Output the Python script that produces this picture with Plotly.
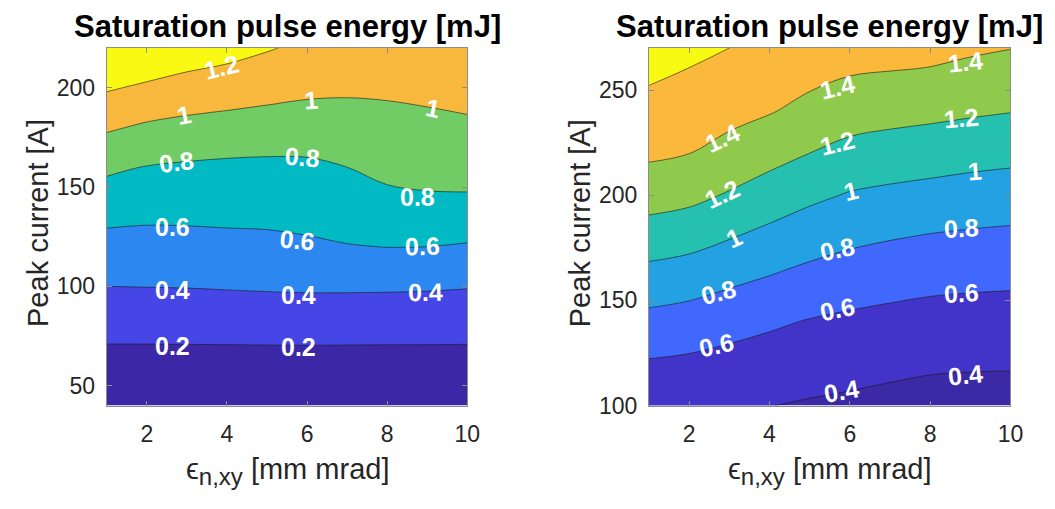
import plotly.graph_objects as go

# ---------------- data ----------------
emit_x = [1, 2, 3, 4, 5, 6, 7, 8, 9, 10]

# left panel
current_left = [40, 60, 80, 100, 120, 140, 160, 180, 200, 220]
energy_left = [
    [0.020, 0.020, 0.020, 0.020, 0.020, 0.020, 0.020, 0.020, 0.020, 0.020],
    [0.124, 0.124, 0.124, 0.124, 0.124, 0.124, 0.124, 0.124, 0.124, 0.124],
    [0.262, 0.263, 0.264, 0.267, 0.269, 0.271, 0.269, 0.268, 0.267, 0.264],
    [0.400, 0.403, 0.406, 0.413, 0.420, 0.425, 0.425, 0.423, 0.418, 0.409],
    [0.533, 0.530, 0.535, 0.547, 0.553, 0.571, 0.592, 0.603, 0.600, 0.583],
    [0.677, 0.660, 0.659, 0.660, 0.663, 0.674, 0.697, 0.739, 0.757, 0.757],
    [0.837, 0.793, 0.776, 0.764, 0.761, 0.767, 0.800, 0.848, 0.863, 0.871],
    [1.024, 0.973, 0.945, 0.926, 0.909, 0.900, 0.914, 0.936, 0.950, 0.967],
    [1.220, 1.170, 1.127, 1.100, 1.071, 1.042, 1.029, 1.031, 1.047, 1.068],
    [1.380, 1.370, 1.310, 1.267, 1.214, 1.164, 1.143, 1.144, 1.156, 1.174],
]
levels_left = (0.2, 1.2, 0.2)
colors_left = ["#3c28a6", "#4646e6", "#2d87f0", "#02bac4",
               "#72cc66", "#f7b83d", "#f9f914"]
yticks_left = [50, 100, 150, 200]

# right panel
current_right = [100, 120, 140, 160, 180, 200, 220, 240, 260, 280]
energy_right = [
    [0.447, 0.433, 0.418, 0.403, 0.382, 0.365, 0.344, 0.325, 0.317, 0.316],
    [0.582, 0.564, 0.535, 0.511, 0.486, 0.465, 0.446, 0.428, 0.421, 0.418],
    [0.742, 0.716, 0.672, 0.629, 0.590, 0.565, 0.547, 0.531, 0.524, 0.520],
    [0.921, 0.888, 0.835, 0.786, 0.736, 0.696, 0.668, 0.647, 0.636, 0.629],
    [1.106, 1.074, 1.009, 0.946, 0.887, 0.842, 0.811, 0.787, 0.771, 0.760],
    [1.283, 1.250, 1.183, 1.109, 1.040, 0.986, 0.959, 0.938, 0.918, 0.903],
    [1.432, 1.402, 1.338, 1.268, 1.200, 1.141, 1.114, 1.093, 1.070, 1.053],
    [1.536, 1.500, 1.457, 1.412, 1.348, 1.290, 1.265, 1.247, 1.225, 1.206],
    [1.641, 1.597, 1.552, 1.506, 1.460, 1.422, 1.407, 1.395, 1.371, 1.348],
    [1.745, 1.694, 1.648, 1.600, 1.553, 1.516, 1.499, 1.487, 1.473, 1.459],
]
levels_right = (0.4, 1.6, 0.2)
colors_right = ["#3c29a6", "#4234c9", "#4168fc", "#24a1e3",
                "#25c0af", "#8fca4c", "#fbb93c", "#f8fa14"]
yticks_right = [100, 150, 200, 250]

xticks = [2, 4, 6, 8, 10]
title_text = "Saturation pulse energy [mJ]"
xlabel_main = "\u03f5"
xlabel_sub = "n,xy"
xlabel_unit = " [mm mrad]"
ylabel_text = "Peak current [A]"

# contour-label placement (label text, x, y, rotation in degrees)
label_place_left = [
    ("1.2", 3.87, 210.5, -14),
    ("1", 2.92, 186.5, -10),
    ("1", 6.09, 193.8, -4),
    ("1", 9.14, 189.8, 12),
    ("0.8", 2.75, 162.7, -7),
    ("0.8", 5.88, 165.2, 5),
    ("0.8", 8.77, 144.9, 0),
    ("0.6", 2.65, 130.0, 0),
    ("0.6", 5.76, 123.5, 6),
    ("0.6", 8.89, 120.2, -2),
    ("0.4", 2.65, 98.1, 0),
    ("0.4", 5.78, 95.8, 0),
    ("0.4", 8.95, 97.3, -1),
    ("0.2", 2.65, 70.0, 0),
    ("0.2", 5.78, 69.6, 0),
]
label_place_right = [
    ("1.4", 8.87, 263.4, -6),
    ("1.4", 5.70, 251.5, -13),
    ("1.4", 2.83, 227.2, -25),
    ("1.2", 8.79, 236.5, -5),
    ("1.2", 5.70, 224.7, -13),
    ("1.2", 2.83, 200.5, -25),
    ("1", 9.12, 211.3, -4),
    ("1", 6.03, 202.0, -13),
    ("1", 3.11, 179.6, -25),
    ("0.8", 8.79, 184.2, -3),
    ("0.8", 5.70, 174.2, -12),
    ("0.8", 2.74, 154.1, -15),
    ("0.6", 8.79, 153.3, -3),
    ("0.6", 5.70, 145.9, -12),
    ("0.6", 2.68, 128.9, -12),
    ("0.4", 8.87, 114.7, -6),
    ("0.4", 5.79, 107.0, -10),
]

FONT = "Liberation Sans, Arial, Helvetica, sans-serif"
AXCOL = "#8c8c8c"
TXTCOL = "#262626"


def discrete_scale(colors):
    n = len(colors) - 1
    return [[i / n, c] for i, c in enumerate(colors)]


def contour_trace(z, y, levels, colors, xa, ya):
    start, end, size = levels
    return go.Contour(
        x=emit_x, y=y, z=z,
        autocontour=False,
        contours=dict(start=start, end=end, size=size, coloring="fill",
                      showlabels=False),
        colorscale=discrete_scale(colors),
        line=dict(color="#1a1a1a", width=0.6),
        showscale=False,
        xaxis=xa, yaxis=ya,
        hoverinfo="skip",
    )


fig = go.Figure()
fig.add_trace(contour_trace(energy_left, current_left, levels_left, colors_left, "x", "y"))
fig.add_trace(contour_trace(energy_right, current_right, levels_right, colors_right, "x2", "y2"))

W, H = 1055, 509
left_px = (100, 465)
right_px = (649, 1015)
top_px, bot_px = 41, 408
ydom = [1 - bot_px / H, 1 - top_px / H]

axis_common = dict(
    showline=True, linecolor=AXCOL, linewidth=1, mirror="ticks",
    ticks="inside", ticklen=5, tickcolor=AXCOL, tickwidth=1,
    showgrid=False, zeroline=False,
    tickfont=dict(family=FONT, size=23, color=TXTCOL),
)

fig.update_layout(
    width=W, height=H,
    margin=dict(l=0, r=0, t=0, b=0),
    paper_bgcolor="white", plot_bgcolor="white",
    showlegend=False,
    xaxis=dict(domain=[left_px[0] / W, left_px[1] / W], range=[1, 10],
               tickvals=xticks, anchor="y", ticklabelstandoff=8, **axis_common),
    yaxis=dict(domain=ydom, range=[40, 220], tickvals=yticks_left, anchor="x",
               ticklabelstandoff=6, **axis_common),
    xaxis2=dict(domain=[right_px[0] / W, right_px[1] / W], range=[1, 10],
                tickvals=xticks, anchor="y2", ticklabelstandoff=8, **axis_common),
    yaxis2=dict(domain=ydom, range=[100, 270], tickvals=yticks_right, anchor="x2",
                ticklabelstandoff=6, **axis_common),
)

xlabel_html = '%s<sub><span style="font-size:24px">%s</span></sub>%s' % (
    xlabel_main, xlabel_sub, xlabel_unit)

annotations = []
for (x0, x1) in (left_px, right_px):
    cx = (x0 + x1) / 2 / W
    annotations.append(dict(text="<b>%s</b>" % title_text, x=cx, y=1 - 19 / H,
                            xref="paper", yref="paper", showarrow=False,
                            xanchor="center", yanchor="middle",
                            font=dict(family=FONT, size=31, color="black")))
    annotations.append(dict(text=xlabel_html, x=cx, y=1 - 476 / H,
                            xref="paper", yref="paper", showarrow=False,
                            xanchor="center", yanchor="middle",
                            font=dict(family=FONT, size=29, color=TXTCOL)))
for xpx in (31, 579):
    annotations.append(dict(text=ylabel_text, x=xpx / W, y=1 - 221 / H, textangle=-90,
                            xref="paper", yref="paper", showarrow=False,
                            xanchor="center", yanchor="middle",
                            font=dict(family=FONT, size=29, color=TXTCOL)))

for places, xr, yr in ((label_place_left, "x", "y"), (label_place_right, "x2", "y2")):
    for txt, lx, ly, ang in places:
        annotations.append(dict(text="<b>%s</b>" % txt, x=lx, y=ly, xref=xr, yref=yr,
                                showarrow=False, textangle=ang,
                                xanchor="center", yanchor="middle",
                                font=dict(family=FONT, size=25, color="white")))

fig.update_layout(annotations=annotations)

fig.write_html("out.html")
